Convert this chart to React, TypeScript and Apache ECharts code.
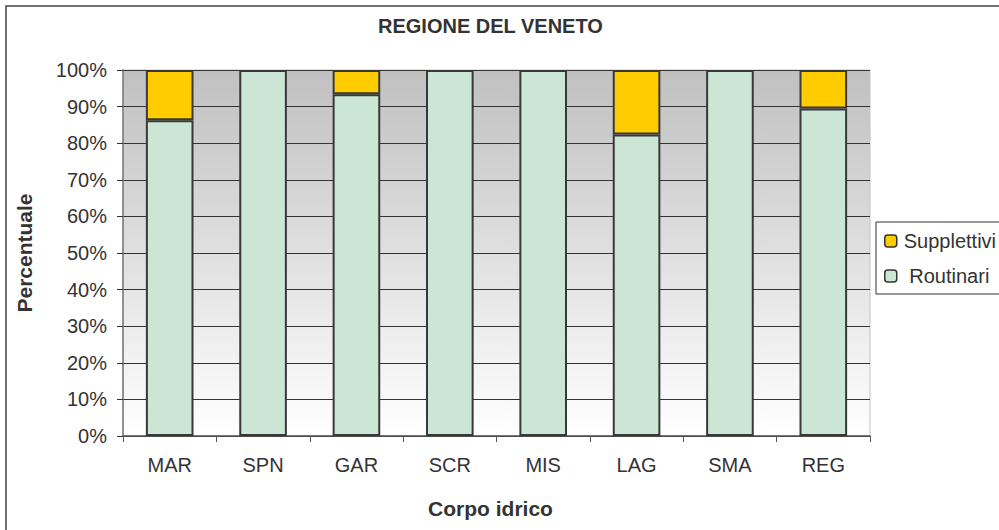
import React, { useEffect, useRef } from "react";
import * as echarts from "echarts";

const categories = ["MAR", "SPN", "GAR", "SCR", "MIS", "LAG", "SMA", "REG"];
const routinari = [86.3, 100, 93.4, 100, 100, 82.4, 100, 89.5];
const supplettivi = [13.7, 0, 6.6, 0, 0, 17.6, 0, 10.5];
const titleText = "REGIONE DEL VENETO";
const yName = "Percentuale";
const xName = "Corpo idrico";
const legendNames = ["Supplettivi", "Routinari"];

const FONT = "'Liberation Sans', Arial, sans-serif";
const TXT = "#333333";

export default function App() {
  const ref = useRef<HTMLDivElement>(null);
  useEffect(() => {
    if (!ref.current) return;
    const chart = echarts.init(ref.current, undefined, { renderer: "svg" });
    chart.setOption({
      animation: false,
      backgroundColor: "#ffffff",
      textStyle: { fontFamily: FONT },
      title: {
        text: titleText,
        left: 378,
        top: 16,
        padding: 0,
        textStyle: { fontFamily: FONT, fontSize: 20, fontWeight: "bold", color: TXT },
      },
      graphic: [
        {
          type: "rect",
          silent: true,
          z: -10,
          shape: { x: 6, y: 6, width: 1100, height: 600 },
          style: { fill: "none", stroke: "#444", lineWidth: 1.5 },
        },
      ],
      legend: {
        data: legendNames,
        orient: "vertical",
        left: 876,
        top: 222,
        padding: [9, 40, 8, 8],
        itemWidth: 12,
        itemHeight: 12,
        itemGap: 15,
        borderColor: "#333",
        borderWidth: 1,
        backgroundColor: "#fff",
        formatter: (n: string) => (n === "Routinari" ? " " + n : n),
        itemStyle: { borderColor: "#333", borderWidth: 1.5 },
        textStyle: { fontFamily: FONT, fontSize: 20, color: TXT, padding: [0, 0, 0, 2] },
      },
      grid: {
        left: 123,
        top: 70,
        right: 129,
        bottom: 94,
        show: true,
        borderColor: "#cbbfbb",
        borderWidth: 1,
        backgroundColor: {
          type: "linear",
          x: 0,
          y: 0,
          x2: 0,
          y2: 1,
          colorStops: [
            { offset: 0, color: "#c0c0c0" },
            { offset: 1, color: "#ffffff" },
          ],
        },
      },
      xAxis: {
        type: "category",
        data: categories,
        name: xName,
        nameLocation: "middle",
        nameGap: 62,
        nameTextStyle: {
          fontFamily: FONT,
          fontSize: 21,
          fontWeight: "bold",
          color: TXT,
          padding: [0, 12, 0, 0],
        },
        axisLine: { lineStyle: { color: "#555", width: 1.5 } },
        axisTick: { show: true, length: 6, lineStyle: { color: "#555" } },
        axisLabel: { fontFamily: FONT, fontSize: 20, color: TXT, margin: 19 },
      },
      yAxis: {
        type: "value",
        min: 0,
        max: 100,
        interval: 10,
        name: yName,
        nameLocation: "middle",
        nameRotate: 90,
        nameGap: 88,
        nameTextStyle: { fontFamily: FONT, fontSize: 21, fontWeight: "bold", color: TXT },
        axisLine: { show: true, lineStyle: { color: "#777", width: 1.5 } },
        axisTick: { show: true, length: 6, lineStyle: { color: "#333" } },
        axisLabel: { fontFamily: FONT, fontSize: 20, color: TXT, margin: 16, formatter: "{value}%" },
        splitLine: { show: true, lineStyle: { color: "#333", width: 1.2 } },
      },
      series: [
        {
          name: "Routinari",
          type: "bar",
          stack: "tot",
          barWidth: "51%",
          data: routinari.map((v) => (v === 0 ? null : v)),
          itemStyle: { color: "#cce6d6", borderColor: "#383838", borderWidth: 2, borderType: "solid" },
        },
        {
          name: "Supplettivi",
          type: "bar",
          stack: "tot",
          barWidth: "51%",
          data: supplettivi.map((v) => (v === 0 ? null : v)),
          itemStyle: { color: "#ffcc00", borderColor: "#383838", borderWidth: 2, borderType: "solid" },
        },
      ],
    });
    return () => chart.dispose();
  }, []);
  return (
    <div
      ref={ref}
      style={{ position: "fixed", left: 0, top: 0, width: 999, height: 530 }}
    />
  );
}
